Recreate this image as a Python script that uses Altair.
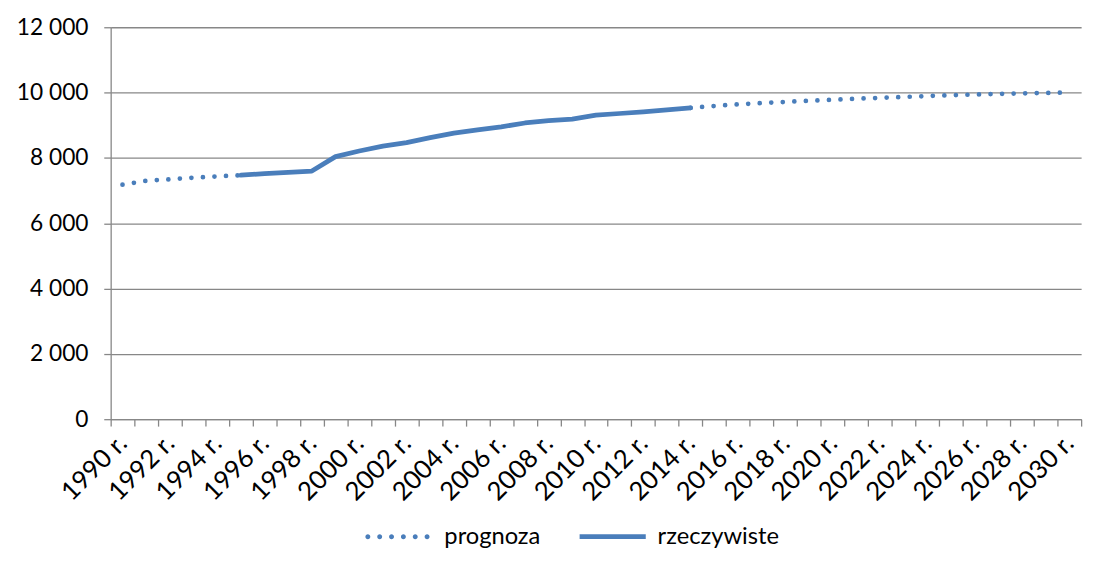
import altair as alt
import pandas as pd

BLUE = "#4A7EBB"
GRID = "#878787"
FONT = "Lato"

series_names = ["prognoza", "rzeczywiste"]

years_prog_early = [1990, 1991, 1992, 1993, 1994, 1995]
values_prog_early = [7180, 7300, 7345, 7395, 7435, 7470]

years_real = list(range(1995, 2015))
values_real = [7470, 7520, 7560, 7597, 8040, 8210, 8360, 8470, 8620, 8760,
               8860, 8950, 9070, 9140, 9190, 9310, 9360, 9410, 9470, 9530]

years_prog_late = list(range(2014, 2031))
values_prog_late = [9530, 9590, 9640, 9680, 9715, 9750, 9780, 9810, 9840,
                    9865, 9895, 9920, 9940, 9960, 9975, 9990, 10000]

y_ticks = [0, 2000, 4000, 6000, 8000, 10000, 12000]
x_label_years = list(range(1990, 2031, 2))
x_boundaries = [y + 0.5 for y in range(1989, 2031)]

rows = []
for yr, v in zip(years_prog_early, values_prog_early):
    rows.append({"series": "prognoza", "segment": "p1", "year": yr, "value": v})
for yr, v in zip(years_real, values_real):
    rows.append({"series": "rzeczywiste", "segment": "r", "year": yr, "value": v})
for yr, v in zip(years_prog_late, values_prog_late):
    rows.append({"series": "prognoza", "segment": "p2", "year": yr, "value": v})
df = pd.DataFrame(rows)

# legend symbol shapes: unit = sqrt(symbolSize)/2 = 10 px, drawn from -1 (entry start) to 5.4 (64 px)
r = 0.25
dot_pos = [-0.75, 0.45, 1.65, 2.85, 4.05, 5.25]
dots_path = " ".join(
    f"M{p - r:.3f},0 A{r},{r} 0 1,0 {p + r:.3f},0 A{r},{r} 0 1,0 {p - r:.3f},0 Z"
    for p in dot_pos
)
bar_path = "M-0.9,-0.24 L5.8,-0.24 L5.8,0.24 L-0.9,0.24 Z"

x_enc = alt.X(
    "year:Q",
    scale=alt.Scale(domain=[1989.5, 2030.5], nice=False, zero=False),
    axis=alt.Axis(
        values=x_boundaries + x_label_years,
        labelExpr="datum.value % 2 == 0 ? datum.value + ' r.' : ''",
        labelAngle=-45,
        labelAlign="right",
        labelBaseline="middle",
        labelOverlap=False,
        labelFlush=False,
        labelBound=False,
        labelPadding=13,
        labelFontSize=26,
        tickOpacity={"condition": {"test": "datum.value % 1 == 0", "value": 0}, "value": 1},
        tickSize=7,
        tickColor=GRID,
        tickWidth=1.3,
        domainColor=GRID,
        domainWidth=1.3,
        grid=False,
        title=None,
    ),
)
y_enc = alt.Y(
    "value:Q",
    scale=alt.Scale(domain=[0, 12000], nice=False),
    axis=alt.Axis(
        values=y_ticks,
        labelExpr="replace(format(datum.value, ','), ',', ' ')",
        labelPadding=16,
        labelFontSize=23,
        tickSize=7,
        tickColor=GRID,
        tickWidth=1.3,
        domainColor=GRID,
        domainWidth=1.3,
        gridColor=GRID,
        gridWidth=1.3,
        title=None,
    ),
)

base = alt.Chart(df)

prog_lines = base.transform_filter(alt.datum.series == "prognoza").mark_line(
    strokeWidth=4.8, strokeCap="round", strokeJoin="round", color=BLUE, strokeDash=[0, 11.7]
).encode(x=x_enc, y=y_enc, detail="segment:N")

real_line = base.transform_filter(alt.datum.series == "rzeczywiste").mark_line(
    strokeWidth=4.8, strokeCap="round", strokeJoin="round", color=BLUE
).encode(x=x_enc, y=y_enc)

legend_layer = base.mark_point(filled=True, opacity=0, color=BLUE).encode(
    x=x_enc,
    y=y_enc,
    shape=alt.Shape(
        "series:N",
        scale=alt.Scale(domain=series_names, range=[dots_path, bar_path]),
        legend=alt.Legend(
            title=None,
            orient="none",
            legendX=256,
            legendY=504,
            direction="horizontal",
            symbolSize=400,
            symbolFillColor=BLUE,
            symbolStrokeWidth=0,
            symbolOpacity=1,
            labelOffset=58,
            columnPadding=36,
            labelFont=FONT,
            labelFontSize=24,
            labelColor="black",
            padding=0,
        ),
    ),
)

chart = (
    alt.layer(prog_lines, real_line, legend_layer)
    .properties(width=983, height=397, padding={"left": 8, "top": 5, "right": 0, "bottom": 0})
    .configure_view(stroke=None)
    .configure_axis(labelFont=FONT, labelColor="black")
)

chart.save("out.html", embed_options={"renderer": "svg", "actions": False})
